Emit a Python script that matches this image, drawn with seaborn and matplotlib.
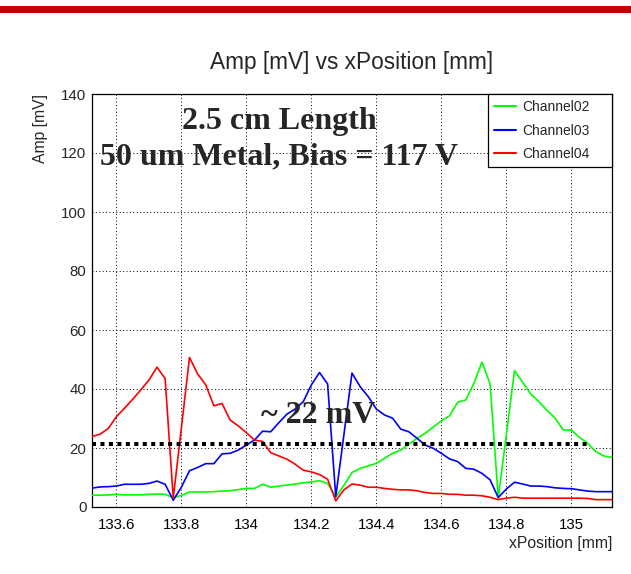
import numpy as np
import pandas as pd
import matplotlib
matplotlib.use("Agg")
import matplotlib.pyplot as plt
from matplotlib.patches import Rectangle
from matplotlib.ticker import MultipleLocator
from matplotlib.lines import Line2D
import seaborn as sns

# ---------------- data ----------------
x_start = 133.525
x_step = 0.025
n_points = 65
x_pos = [round(x_start + x_step * k, 3) for k in range(n_points)]

channel02 = [4.0, 4.0, 4.1, 4.3, 4.1, 4.1, 4.1, 4.3, 4.4, 4.3,
             3.2, 3.9, 5.1, 5.1, 5.1, 5.2, 5.4, 5.5, 5.9, 6.3,
             6.3, 7.7, 6.7, 7.1, 7.4, 7.8, 8.2, 8.5, 8.9, 8.0,
             3.4, 7.3, 11.7, 13.1, 13.9, 14.8, 16.5, 18.2, 19.3, 21.3,
             23.3, 25.0, 27.1, 29.2, 30.9, 35.5, 36.3, 41.9, 49.1, 41.7,
             3.0, 24.6, 46.2, 42.3, 38.3, 35.7, 32.8, 30.1, 26.1, 26.1,
             23.6, 21.6, 18.8, 17.3, 16.8]

channel03 = [6.4, 6.8, 6.9, 7.1, 7.7, 7.7, 7.7, 8.0, 8.8, 7.7,
             2.3, 6.7, 12.3, 13.4, 14.7, 14.7, 18.0, 18.2, 19.3, 21.0,
             22.7, 25.7, 25.5, 28.6, 31.5, 33.2, 35.7, 41.4, 45.6, 41.7,
             3.5, 24.4, 45.4, 40.8, 37.4, 33.2, 31.2, 30.1, 26.4, 25.5,
             23.3, 21.0, 19.9, 18.2, 16.3, 15.4, 13.1, 12.8, 11.4, 9.2,
             3.2, 6.1, 8.4, 7.8, 7.1, 7.1, 6.9, 6.5, 6.3, 6.2,
             5.8, 5.4, 5.2, 5.2, 5.2]

channel04 = [23.9, 24.7, 26.6, 30.6, 33.5, 36.5, 39.7, 43.0, 47.4, 43.5,
             3.0, 26.8, 50.7, 45.1, 41.4, 34.3, 35.1, 29.5, 27.5, 25.2,
             22.7, 22.2, 18.4, 17.3, 16.2, 14.5, 12.5, 11.9, 11.0, 9.4,
             2.1, 5.8, 7.8, 7.4, 6.7, 6.7, 6.3, 6.0, 5.8, 5.8,
             5.5, 4.9, 4.6, 4.6, 4.3, 4.3, 4.0, 4.0, 3.8, 3.3,
             2.5, 3.0, 3.3, 3.0, 3.0, 3.0, 3.0, 3.0, 3.0, 3.0,
             3.0, 2.9, 2.5, 2.5, 2.5]

channel_names = ["Channel02", "Channel03", "Channel04"]
channel_colors = ["#00ff00", "#0000ff", "#ff0000"]

ref_level = 21.5
ref_x = [133.525, 135.05]

x_ticks = [133.6, 133.8, 134.0, 134.2, 134.4, 134.6, 134.8, 135.0]
x_tick_labels = ["133.6", "133.8", "134", "134.2", "134.4", "134.6", "134.8", "135"]
y_ticks = [0, 20, 40, 60, 80, 100, 120, 140]
y_tick_labels = ["0", "20", "40", "60", "80", "100", "120", "140"]

title_text = "Amp [mV] vs xPosition [mm]"
xlabel_text = "xPosition [mm]"
ylabel_text = "Amp [mV]"
note_lines = ["2.5 cm Length", "50 um Metal, Bias = 117 V"]
note_level = "~ 22 mV"

df = pd.DataFrame({
    "x": x_pos * 3,
    "amp": channel02 + channel03 + channel04,
    "channel": sum([[c] * n_points for c in channel_names], []),
})

# ---------------- figure ----------------
sns.set_style("white")
plt.rcParams["font.family"] = ["Liberation Sans", "DejaVu Sans"]

W, H = 631, 574
fig = plt.figure(figsize=(W / 100, H / 100), dpi=100)
fig.patch.set_facecolor("white")

ax_l, ax_r, ax_t, ax_b = 92, 612, 94, 507
ax = fig.add_axes([ax_l / W, 1 - ax_b / H, (ax_r - ax_l) / W, (ax_b - ax_t) / H])

# red band at top of the slide
fig.add_artist(Rectangle((0, 1 - 13 / H), 1, 7 / H, transform=fig.transFigure,
                         color="#c00000", lw=0, zorder=0))

sns.lineplot(data=df, x="x", y="amp", hue="channel", hue_order=channel_names,
             palette=dict(zip(channel_names, channel_colors)), ax=ax,
             linewidth=1.2, legend=False, estimator=None, sort=False, zorder=3)

# reference dotted line
ax.plot(ref_x, [ref_level, ref_level], color="black", lw=2.9,
        linestyle=(0, (1, 1.1)), dash_capstyle="butt", zorder=4)

ax.set_xlim(133.525, 135.125)
ax.set_ylim(0, 140)

ax.set_xticks(x_ticks)
ax.set_xticklabels(x_tick_labels)
ax.set_yticks(y_ticks)
ax.set_yticklabels(y_tick_labels)
ax.xaxis.set_minor_locator(MultipleLocator(0.05))
ax.yaxis.set_minor_locator(MultipleLocator(5))

ax.tick_params(axis="x", which="major", direction="in", length=7.2, width=0.9,
               labelsize=10.8, pad=8, colors="black", top=False)
ax.tick_params(axis="x", which="minor", direction="in", length=4.3, width=0.9,
               top=False)
ax.tick_params(axis="y", which="major", direction="in", length=10.4, width=0.9,
               labelsize=10.8, pad=4, right=False)
ax.tick_params(axis="y", which="minor", direction="in", length=5.4, width=0.9,
               right=False)

ax.grid(True, which="major", color="black", linestyle=(0, (1, 2.5)), lw=0.7)
ax.set_axisbelow(True)
for s in ax.spines.values():
    s.set_color("black")
    s.set_linewidth(0.9)

ax.set_xlabel("")
ax.set_ylabel("")

# legend
leg_x0 = (488 - ax_l) / (ax_r - ax_l)
handles = [Line2D([0], [0], color=c, lw=1.5) for c in channel_colors]
leg = ax.legend(handles, channel_names, loc="upper left",
                bbox_to_anchor=(leg_x0, 0.0, 1.0 - leg_x0, 1.0), mode="expand",
                borderaxespad=0,
                fontsize=10, frameon=True, fancybox=False, framealpha=1,
                edgecolor="black", handlelength=1.6, handletextpad=0.4,
                labelspacing=0.68, borderpad=0.45)
leg.get_frame().set_linewidth(0.9)
leg.set_zorder(10)

# annotations
serif = dict(family=["Liberation Serif", "DejaVu Serif"], weight="bold", size=23)
ax.text(134.10, 128.3, note_lines[0], ha="center", va="baseline", zorder=6, **serif)
ax.text(134.10, 116.1, note_lines[1], ha="center", va="baseline", zorder=6, **serif)
ax.text(134.22, 28.5, note_level, ha="center", va="baseline", zorder=6, **serif)

# titles / labels
fig.text(352 / W, 1 - 62 / H, title_text, ha="center", va="center", fontsize=16.3)
fig.text(40 / W, 1 - 94 / H, ylabel_text, ha="center", va="top", rotation=90,
         fontsize=11.3)
fig.text(612 / W, 1 - 536 / H, xlabel_text, ha="right", va="top", fontsize=11.3)

fig.savefig("out.png", dpi=100)
